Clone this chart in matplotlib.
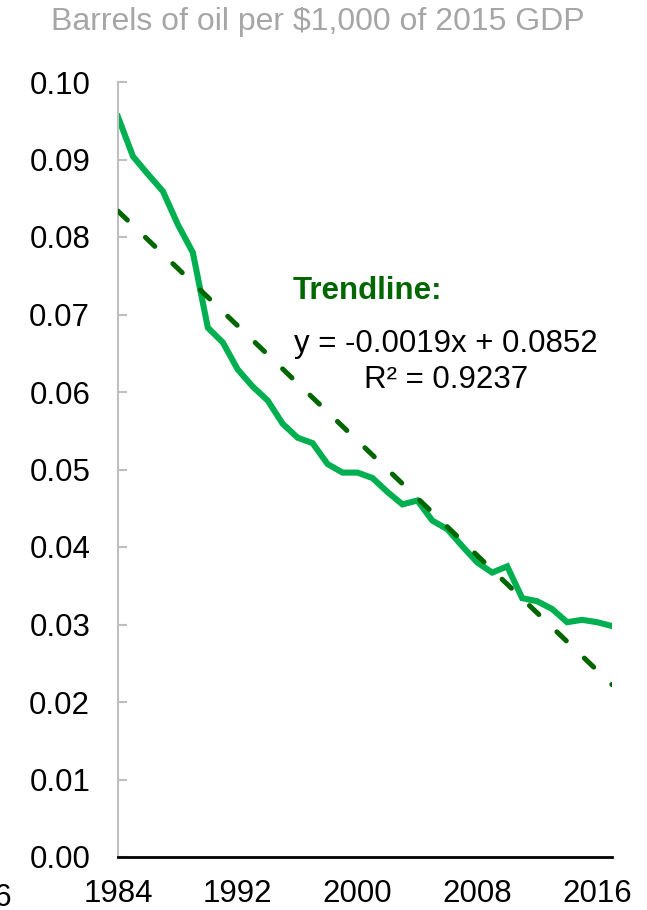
import numpy as np
import matplotlib
matplotlib.use("Agg")
import matplotlib.pyplot as plt

plt.rcParams['font.family'] = ['Liberation Sans', 'DejaVu Sans']

# dados
anos = list(range(1984, 2018))
barris = [0.0955, 0.0904, 0.0881, 0.0859, 0.0816, 0.0780, 0.0683, 0.0664,
          0.0629, 0.0607, 0.0589, 0.0559, 0.0541, 0.0534, 0.0507, 0.0496,
          0.0496, 0.0489, 0.0471, 0.0455, 0.0460, 0.0434, 0.0423, 0.0401,
          0.0380, 0.0367, 0.0375, 0.0334, 0.0330, 0.0320, 0.0303, 0.0306,
          0.0303, 0.0298]
anos_ticks = [1984, 1992, 2000, 2008, 2016]
y_ticks = [0.00, 0.01, 0.02, 0.03, 0.04, 0.05, 0.06, 0.07, 0.08, 0.09, 0.10]
titulo = "Barrels of oil per $1,000 of 2015 GDP"
texto_trend = "Trendline:"
texto_eq = "y = -0.0019x + 0.0852"
texto_r2 = "R\u00b2 = 0.9237"

W, H = 647, 910
fig = plt.figure(figsize=(W / 100, H / 100), dpi=100)
ax = fig.add_axes([118 / W, 1 - 857 / H, (612 - 118) / W, (857 - 82) / H])

# linha de tendencia linear (como no Excel, x = 1..n)
idx = np.arange(1, len(anos) + 1)
coef = np.polyfit(idx, barris, 1)
tendencia = np.polyval(coef, idx)

ax.plot(anos, barris, color='#00B050', lw=4.4, solid_joinstyle='miter', zorder=2)
ax.plot(anos, tendencia, color='#006600', lw=3.6, dashes=(2.6, 5.0),
        dash_capstyle='round', zorder=3)

ax.set_xlim(1984, 2017)
ax.set_ylim(0, 0.1)
ax.set_xticks(anos_ticks)
ax.set_yticks(y_ticks)
ax.set_yticklabels([f"{v:.2f}" for v in y_ticks])

ax.tick_params(axis='y', direction='in', length=6.5, width=1.5, color='#BFBFBF',
               labelsize=22.5, pad=20)
ax.tick_params(axis='x', length=0, labelsize=22.5, pad=16)
for s in ['top', 'right']:
    ax.spines[s].set_visible(False)
ax.spines['left'].set_color('#BFBFBF')
ax.spines['left'].set_linewidth(1.5)
ax.spines['bottom'].set_color('black')
ax.spines['bottom'].set_linewidth(2)

# rotulo 1976 cortado na borda esquerda
fig.text(12 / W, 1 - 906 / H, "1976", ha='right', va='baseline', fontsize=22.5)

fig.text(51 / W, 1 - 30 / H, titulo, ha='left', va='baseline',
         fontsize=23, color='#A6A6A6')

fig.text(293 / W, 1 - 299 / H, texto_trend, ha='left', va='baseline',
         fontsize=22.5, fontweight='bold', color='#006600')
fig.text(446 / W, 1 - 352 / H, texto_eq, ha='center', va='baseline',
         fontsize=22.5, color='black')
fig.text(446 / W, 1 - 388 / H, texto_r2, ha='center', va='baseline',
         fontsize=22.5, color='black')

fig.savefig("out.png", dpi=100)
